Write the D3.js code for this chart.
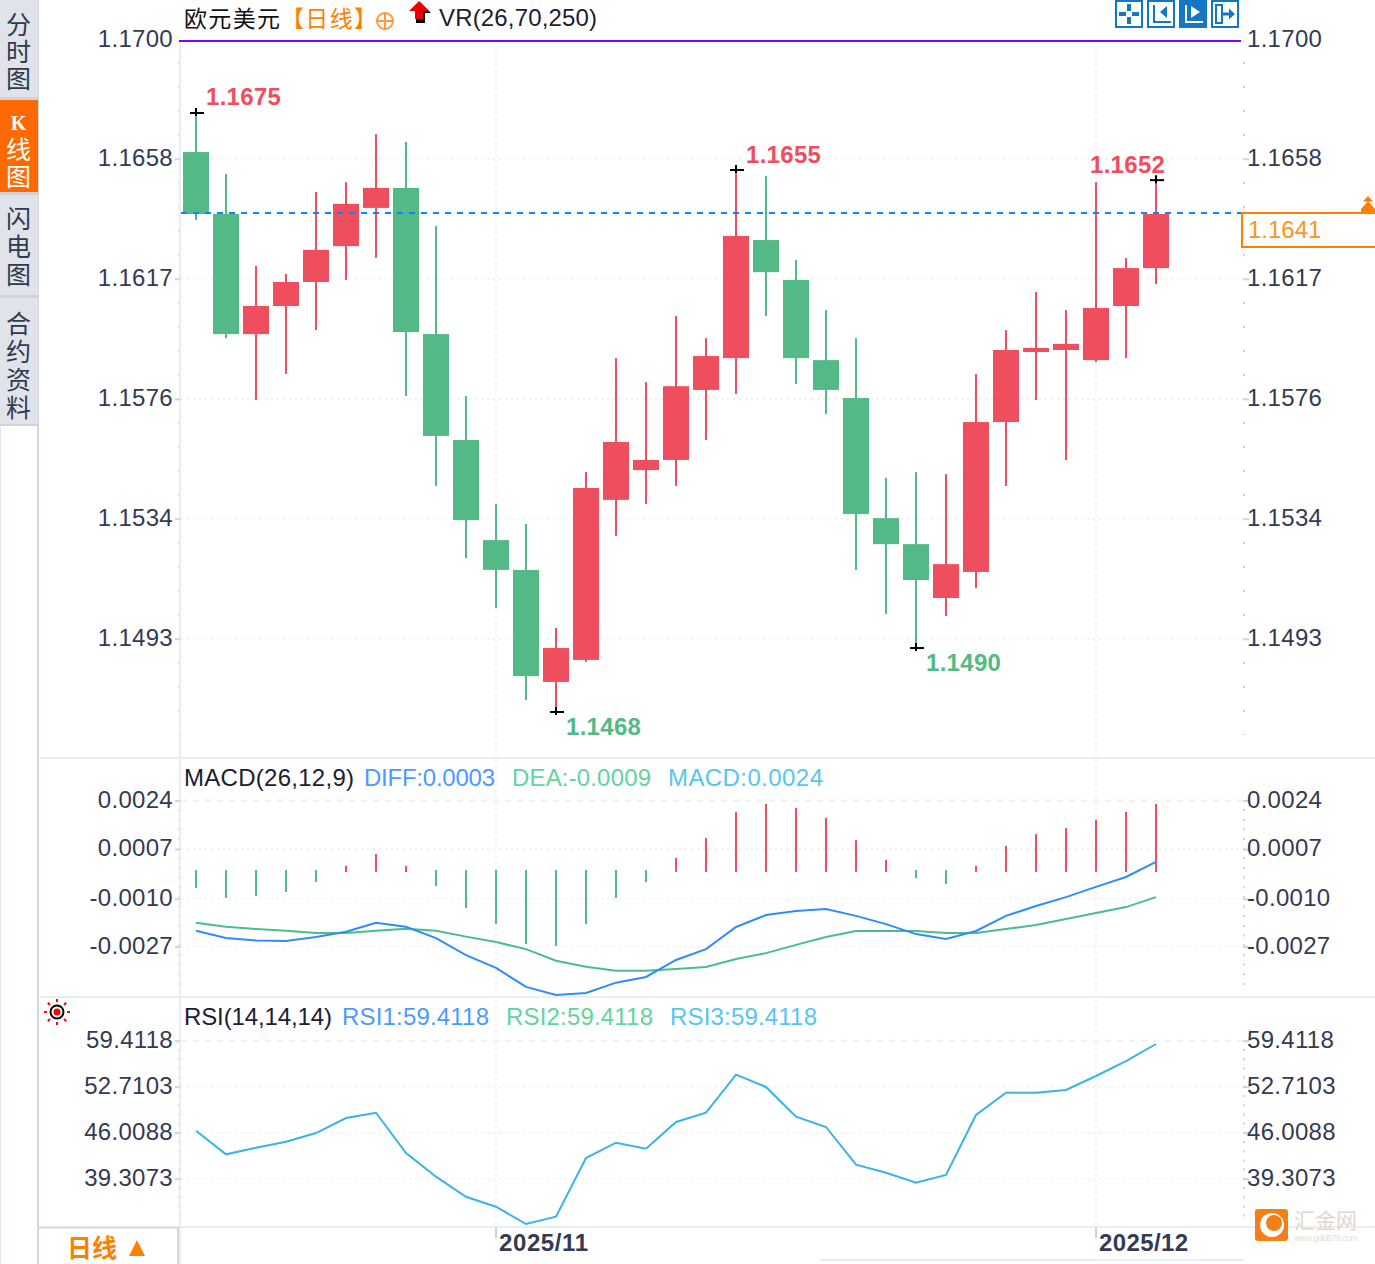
<!DOCTYPE html>
<html>
<head>
<meta charset="utf-8">
<script src="https://cdn.jsdelivr.net/npm/d3@7/dist/d3.min.js"></script>
<style>
html,body{margin:0;padding:0;background:#fff;overflow:hidden}
svg{display:block}
text{font-family:"Liberation Sans",Arial,sans-serif}
.cjk{font-family:"Noto Sans CJK SC","Noto Sans",sans-serif}
</style>
</head>
<body>
<svg id="c" width="1375" height="1264"></svg>
<script>
// ---------- data ----------
const dates = ["10/20","10/21","10/22","10/23","10/24","10/27","10/28","10/29","10/30","10/31",
  "11/03","11/04","11/05","11/06","11/07","11/10","11/11","11/12","11/13","11/14",
  "11/17","11/18","11/19","11/20","11/21","11/24","11/25","11/26","11/27","11/28",
  "12/01","12/02","12/03"];
const opens = [1.16615,1.16401,1.15986,1.16083,1.16166,1.16290,1.16422,1.16491,1.15986,1.15620,
  1.15274,1.15171,1.14784,1.14860,1.15413,1.15516,1.15551,1.15793,1.15903,1.16311,
  1.16173,1.15896,1.15765,1.15350,1.15260,1.15074,1.15164,1.15682,1.15924,1.15931,
  1.15896,1.16083,1.16214];
const highs = [1.16750,1.16539,1.16221,1.16194,1.16477,1.16511,1.16677,1.16650,1.16359,1.15772,
  1.15399,1.15330,1.14970,1.15509,1.15903,1.15820,1.16048,1.15972,1.16553,1.16532,
  1.16242,1.16069,1.15972,1.15489,1.15509,1.15502,1.15848,1.16000,1.16131,1.16069,
  1.16511,1.16249,1.16518];
const lows = [1.16380,1.15972,1.15758,1.15848,1.16000,1.16173,1.16249,1.15772,1.15461,1.15212,
  1.15039,1.14721,1.14680,1.14853,1.15288,1.15399,1.15461,1.15620,1.15779,1.16048,
  1.15813,1.15710,1.15171,1.15019,1.14901,1.15012,1.15108,1.15461,1.15758,1.15551,
  1.15889,1.15903,1.16159];
const closes = [1.16401,1.15986,1.16083,1.16166,1.16277,1.16436,1.16491,1.15993,1.15634,1.15343,
  1.15171,1.14804,1.14901,1.15454,1.15613,1.15551,1.15806,1.15910,1.16325,1.16200,
  1.15903,1.15793,1.15364,1.15260,1.15136,1.15191,1.15682,1.15931,1.15938,1.15952,
  1.16076,1.16214,1.16401];
const macdHist = [-0.00060,-0.00095,-0.00088,-0.00074,-0.00039,0.00018,0.00060,0.00018,-0.00053,-0.00130,
  -0.00187,-0.00257,-0.00264,-0.00187,-0.00095,-0.00039,0.00046,0.00116,0.00208,0.00236,
  0.00222,0.00187,0.00109,0.00039,-0.00025,-0.00046,0.00018,0.00088,0.00130,0.00151,
  0.00180,0.00208,0.00236];
const diffLine = [-0.00210,-0.00236,-0.00245,-0.00246,-0.00232,-0.00214,-0.00182,-0.00196,-0.00236,-0.00296,
  -0.00341,-0.00408,-0.00436,-0.00429,-0.00393,-0.00373,-0.00313,-0.00275,-0.00197,-0.00155,
  -0.00141,-0.00134,-0.00158,-0.00187,-0.00222,-0.00239,-0.00211,-0.00158,-0.00123,-0.00092,
  -0.00056,-0.00021,0.00032];
const deaLine = [-0.00182,-0.00196,-0.00204,-0.00210,-0.00218,-0.00218,-0.00210,-0.00203,-0.00210,-0.00231,
  -0.00250,-0.00275,-0.00316,-0.00337,-0.00351,-0.00351,-0.00345,-0.00338,-0.00310,-0.00289,
  -0.00260,-0.00232,-0.00211,-0.00211,-0.00211,-0.00218,-0.00218,-0.00204,-0.00190,-0.00169,
  -0.00148,-0.00127,-0.00092];
const rsiLine = [46.78,43.34,44.30,45.18,46.44,48.63,49.40,43.53,40.08,37.16,
  35.71,33.19,34.25,42.80,45.03,44.16,48.05,49.40,54.94,53.15,
  48.82,47.32,41.83,40.66,39.20,40.33,49.07,52.32,52.32,52.71,
  54.75,56.93,59.41];
const priceTicks = [1.17001,1.16592,1.16177,1.15762,1.15348,1.14933];
const priceTickLabels = ["1.1700","1.1658","1.1617","1.1576","1.1534","1.1493"];
const macdTicks = [0.00248,0.00077,-0.00098,-0.00266];
const macdTickLabels = ["0.0024","0.0007","-0.0010","-0.0027"];
const rsiTicks = [59.89,53.19,46.49,39.79];
const rsiTickLabels = ["59.4118","52.7103","46.0088","39.3073"];
const monthTicks = ["11/03","12/01"];
const monthTickLabels = ["2025/11","2025/12"];
const extremes = [
  {date:"10/20",value:1.16750,label:"1.1675",dx:10,dy:-8,up:true},
  {date:"11/05",value:1.14680,label:"1.1468",dx:10,dy:23,up:false},
  {date:"11/13",value:1.16553,label:"1.1655",dx:10,dy:-7,up:true},
  {date:"11/21",value:1.14901,label:"1.1490",dx:10,dy:23,up:false},
  {date:"12/03",value:1.16518,label:"1.1652",dx:-66,dy:-7,up:true}
];
const lastPrice = 1.16404;
const topLine = 1.16999;

// ---------- constants ----------
const RED="#ee4e5e", GREEN="#53b987", ORANGE="#ff7f00", TXT="#343a52", GRID="#eef1f3";
const svg=d3.select("#c");
const X0=181,X1=1244;
const x=d3.scaleBand().domain(dates).range([181,181+30*dates.length]);
const cx=d=>x(d)+x.bandwidth()/2;
const yP=d3.scaleLinear().domain([1.1675,1.1468]).range([113,712]);
const yM=d3.scaleLinear().domain([0,0.0024]).range([871,802.8]);
const yR=d3.scaleLinear().domain([59.41,33.19]).range([1044,1224]);

// ---------- sidebar ----------
const tabs=[{t:"分时图",y0:0,y1:97,c:"#e1e3eb",f:"#2f3a4f",top:12,gap:2},
  {t:"线图",k:"K",y0:100,y1:192,c:"#ff6a00",f:"#fff",top:137,gap:2},
  {t:"闪电图",y0:195,y1:295,c:"#e1e3eb",f:"#2f3a4f",top:206,gap:3},
  {t:"合约资料",y0:298,y1:424,c:"#e1e3eb",f:"#2f3a4f",top:311,gap:3}];
svg.append("line").attr("x1",38).attr("x2",38).attr("y1",0).attr("y2",1264).attr("stroke","#cfd8df").attr("stroke-width",2);
svg.append("line").attr("x1",0.5).attr("x2",0.5).attr("y1",424).attr("y2",1264).attr("stroke","#dfe5ea").attr("stroke-width",1);
svg.append("rect").attr("x",0).attr("y",0).attr("width",38).attr("height",426).attr("fill","#cfd4dc");
tabs.forEach(tb=>{
  svg.append("rect").attr("x",0).attr("y",tb.y0).attr("width",38).attr("height",tb.y1-tb.y0).attr("fill",tb.c);
  svg.append("text").attr("class","cjk").attr("x",18.5).attr("y",tb.top)
    .attr("font-size",25).attr("fill",tb.f)
    .style("writing-mode","vertical-rl").style("letter-spacing",tb.gap+"px").text(tb.t);
  if(tb.k){
    svg.append("text").attr("x",18.5).attr("y",130).attr("text-anchor","middle")
      .attr("font-size",20).attr("font-weight","bold").attr("fill",tb.f)
      .style("font-family",'"Liberation Serif",serif').text(tb.k);
  }
});

// ---------- panel frames ----------
[[758,38,1375],[997,38,1375],[1227,178,1375],[1260,820,1245]].forEach(s=>{
  svg.append("line").attr("x1",s[1]).attr("x2",s[2]).attr("y1",s[0]).attr("y2",s[0]).attr("stroke","#e9eef2").attr("stroke-width",2);
});
svg.append("line").attr("x1",180).attr("x2",180).attr("y1",41).attr("y2",1264).attr("stroke","#e9eef2").attr("stroke-width",2);

// ---------- grids ----------
function hgrid(ys,firstDashed){
  svg.append("g").selectAll("line").data(ys).join("line")
    .attr("x1",X0).attr("x2",X1).attr("y1",d=>d).attr("y2",d=>d)
    .attr("stroke",GRID).attr("stroke-width",2)
    .attr("stroke-dasharray",(d,i)=>(firstDashed&&i===0)?"6 6":"2 4");
}
hgrid(priceTicks.slice(1).map(yP),false);
hgrid(macdTicks.map(yM),true);
hgrid(rsiTicks.map(yR),true);
svg.append("g").selectAll("line").data(monthTicks).join("line")
  .attr("x1",d=>cx(d)).attr("x2",d=>cx(d)).attr("y1",46).attr("y2",1224)
  .attr("stroke",GRID).attr("stroke-width",2).attr("stroke-dasharray","2 4");

// ---------- minor axis dots ----------
function dots(xp,y0,y1,gap,col){
  svg.append("line").attr("x1",xp).attr("x2",xp).attr("y1",y0).attr("y2",y1)
    .attr("stroke",col).attr("stroke-width",2).attr("stroke-dasharray","2 "+gap);
}
[[179,"#dfe5ea"],[1244,"#cdd6de"]].forEach(p=>{
  dots(p[0],62,735,22,p[1]);
  dots(p[0],809,992,7.66,p[1]);
  dots(p[0],1049,1222,7.2,p[1]);
});

// ---------- axes ----------
function axes(scale,ticks,labels,skipFirstTick){
  const lab=d3.scaleOrdinal().domain(ticks).range(labels);
  const gl=svg.append("g").attr("transform","translate(180,0)")
    .call(d3.axisLeft(scale).tickValues(ticks).tickFormat(lab).tickSize(5).tickPadding(2));
  const gr=svg.append("g").attr("transform","translate(1243,0)")
    .call(d3.axisRight(scale).tickValues(ticks).tickFormat(lab).tickSize(6).tickPadding(-2));
  [gl,gr].forEach(g=>{
    g.select(".domain").remove();
    g.selectAll("line").attr("stroke","#cdd6de").attr("stroke-width",2)
      .attr("visibility",(d,i)=>skipFirstTick&&i===0?"hidden":null);
    g.selectAll("text").attr("font-size",24).attr("fill",TXT).attr("dy",".27em")
      .style("letter-spacing","0.3px")
      .style("font-family",'"Liberation Sans",Arial,sans-serif');
  });
}
axes(yP,priceTicks,priceTickLabels,true);
axes(yM,macdTicks,macdTickLabels);
axes(yR,rsiTicks,rsiTickLabels);

// ---------- candles ----------
const candles=dates.map((d,i)=>({d,o:opens[i],h:highs[i],l:lows[i],c:closes[i]}));
const col=d=>d.c>=d.o?RED:GREEN;
svg.append("g").selectAll("rect").data(candles).join("rect")
  .attr("x",d=>cx(d.d)-1).attr("width",2)
  .attr("y",d=>yP(d.h)).attr("height",d=>yP(d.l)-yP(d.h)).attr("fill",col);
svg.append("g").selectAll("rect").data(candles).join("rect")
  .attr("x",d=>cx(d.d)-13).attr("width",26)
  .attr("y",d=>yP(Math.max(d.o,d.c))).attr("height",d=>Math.abs(yP(d.o)-yP(d.c))).attr("fill",col);

// ---------- top + last price lines ----------
svg.append("line").attr("x1",179).attr("x2",1241).attr("y1",yP(topLine)).attr("y2",yP(topLine))
  .attr("stroke","#7f00ff").attr("stroke-width",2);
svg.append("line").attr("x1",181).attr("x2",1241).attr("y1",yP(lastPrice)).attr("y2",yP(lastPrice))
  .attr("stroke","#0a84ff").attr("stroke-width",2).attr("stroke-dasharray","6 6");

// ---------- extremes ----------
extremes.forEach(e=>{
  const px=cx(e.date)+1,py=yP(e.value);
  const g=svg.append("g");
  g.append("line").attr("x1",px-7).attr("x2",px+7).attr("y1",py).attr("y2",py).attr("stroke","#000").attr("stroke-width",2);
  g.append("line").attr("x1",px-1).attr("x2",px-1).attr("y1",py-5).attr("y2",py+3).attr("stroke","#000").attr("stroke-width",2);
  g.append("text").attr("x",px+e.dx-1).attr("y",py+e.dy)
    .attr("font-size",24).attr("font-weight","bold").attr("fill",e.up?RED:GREEN)
    .style("letter-spacing","0.3px").text(e.label);
});

// ---------- last price box ----------
svg.append("rect").attr("x",1242).attr("y",213).attr("width",140).attr("height",34)
  .attr("fill","#fff").attr("stroke",ORANGE).attr("stroke-width",2);
svg.append("text").attr("x",1248).attr("y",238).attr("font-size",24).attr("fill","#ff9416").text("1.1641");
svg.append("path").attr("d","M1368 196 L1373 201.5 L1363 201.5 Z M1368 201 L1375 209 L1375 213 L1361 213 L1361 209 Z").attr("fill",ORANGE);

// ---------- MACD ----------
svg.append("g").selectAll("rect").data(macdHist.map((v,i)=>({v,d:dates[i]}))).join("rect")
  .attr("x",d=>cx(d.d)-1).attr("width",2)
  .attr("y",d=>d.v>=0?yM(d.v):yM(0)-1)
  .attr("height",d=>d.v>=0?yM(0)+1-yM(d.v):yM(d.v)-yM(0)+1)
  .attr("fill",d=>d.v>=0?RED:GREEN);
function line(scale,vals,color){
  svg.append("path").datum(vals)
    .attr("d",d3.line().x((d,i)=>cx(dates[i])).y(d=>scale(d)))
    .attr("fill","none").attr("stroke",color).attr("stroke-width",2);
}
line(yM,deaLine,"#45c08b");
line(yM,diffLine,"#2f8dfa");

// ---------- RSI ----------
line(yR,rsiLine,"#38b4e8");

// ---------- headers ----------
function t(xp,yp,s,fill,cls,size,w,len){
  const n=svg.append("text").attr("x",xp).attr("y",yp).attr("font-size",size||24).attr("fill",fill).text(s);
  if(cls)n.attr("class",cls); if(w)n.attr("font-weight",w);
  if(len)n.attr("textLength",len).attr("lengthAdjust","spacing");
  return n;
}
t(184,27,"欧元美元","#111","cjk",23,null,96);
t(281,27,"【日线】",ORANGE,"cjk",23,null,96);
t(439,26,"VR(26,70,250)","#1c2030",null,24,null,158);
t(184,786,"MACD(26,12,9)","#1c2030",null,24,null,170);
t(364,786,"DIFF:0.0003","#4b9bff",null,24,null,131);
t(512,786,"DEA:-0.0009","#63d3a0",null,24,null,139);
t(668,786,"MACD:0.0024","#55c6f2",null,24,null,155);
t(184,1025,"RSI(14,14,14)","#1c2030",null,24,null,148);
t(342,1025,"RSI1:59.4118","#4b9bff",null,24,null,147);
t(506,1025,"RSI2:59.4118","#63d3a0",null,24,null,147);
t(670,1025,"RSI3:59.4118","#55c6f2",null,24,null,147);

// ---------- title icons ----------
const ic=svg.append("g").attr("fill","none").attr("stroke","#ff9a3a").attr("stroke-width",2);
ic.append("circle").attr("cx",385).attr("cy",21).attr("r",8);
ic.append("path").attr("d","M377 21H393M385 13V29");
svg.append("path").attr("d","M420 2 L431 13 L425 13 L425 23 L416 23 L416 13 L420 13Z").attr("fill","#000");
svg.append("path").attr("d","M419 1 L429 11 L423 11 L423 19 L415 19 L415 11 L409 11Z").attr("fill","#f00000");

// ---------- toolbar ----------
const BLUE="#1477c4";
const toolX=[1115,1147,1179,1211];
const tg=svg.append("g");
toolX.forEach((xp,i)=>{
  tg.append("rect").attr("x",xp+1).attr("y",1).attr("width",26).attr("height",26)
    .attr("fill",i===2?BLUE:"#fff").attr("stroke",BLUE).attr("stroke-width",2);
});
const fg=i=>i===2?"#fff":BLUE;
tg.append("path").attr("fill",BLUE).attr("d","M1127 4h4v7h-4zM1127 17h4v7h-4zM1119 12h7v4h-7zM1132 12h7v4h-7z");
[1147,1179].forEach((xp,k)=>{
  const c=fg(k===0?1:2);
  tg.append("path").attr("fill","none").attr("stroke",c).attr("stroke-width",2).attr("d",`M${xp+7} 5V22H${xp+24}`);
  tg.append("path").attr("fill",c).attr("d",k===0?`M${xp+20} 6V18L${xp+13} 12Z`:`M${xp+12} 6V18L${xp+21} 12Z`);
});
tg.append("rect").attr("x",1216).attr("y",5).attr("width",6).attr("height",18).attr("fill","none").attr("stroke",BLUE).attr("stroke-width",2);
tg.append("path").attr("fill",BLUE).attr("d","M1222 12.5h7v-4l6 5.5-6 5.5v-4h-7z");

// ---------- sun icon ----------
const sun=svg.append("g").attr("transform","translate(57,1012)");
sun.append("circle").attr("r",6.5).attr("fill","#fff").attr("stroke","#000").attr("stroke-width",2);
sun.append("circle").attr("r",3.5).attr("fill","#f00");
d3.range(8).forEach(i=>{
  const a=i*Math.PI/4;
  sun.append("line").attr("x1",10*Math.cos(a)).attr("y1",10*Math.sin(a))
    .attr("x2",13*Math.cos(a)).attr("y2",13*Math.sin(a)).attr("stroke","#f00").attr("stroke-width",2);
});

// ---------- x axis ----------
const gx=svg.append("g").attr("transform","translate(0,1227)")
  .call(d3.axisBottom(x).tickValues(monthTicks).tickSize(11).tickSizeOuter(0)
    .tickFormat(d=>monthTickLabels[monthTicks.indexOf(d)]));
gx.select(".domain").remove();
gx.selectAll("line").attr("stroke","#c9d2da").attr("stroke-width",2);
gx.selectAll("text").attr("text-anchor","start").attr("x",3).attr("y",7).attr("dy","0.71em")
  .attr("font-size",24).attr("font-weight","bold").attr("fill",TXT)
  .attr("textLength",89).attr("lengthAdjust","spacing")
  .style("font-family",'"Liberation Sans",Arial,sans-serif');

// ---------- period box ----------
svg.append("path").attr("d","M39 1227.5H178V1264").attr("fill","none").attr("stroke","#cfd8df").attr("stroke-width",2);
t(67,1257,"日线",ORANGE,"cjk",25,"bold");
svg.append("path").attr("d","M137 1240 L145 1256 L129 1256 Z").attr("fill",ORANGE);

// ---------- watermark ----------
svg.append("rect").attr("x",1255).attr("y",1209).attr("width",33).attr("height",32).attr("rx",3).attr("fill","#f57f17");
svg.append("circle").attr("cx",1272).attr("cy",1225).attr("r",12).attr("fill","#fff");
svg.append("circle").attr("cx",1274).attr("cy",1223).attr("r",8).attr("fill","#f57f17");
t(1294,1228,"汇金网","#e2d6cd","cjk",21);
t(1294,1241,"www.gold678.com","#e6e0da",null,9,null,64);
</script>
</body>
</html>
